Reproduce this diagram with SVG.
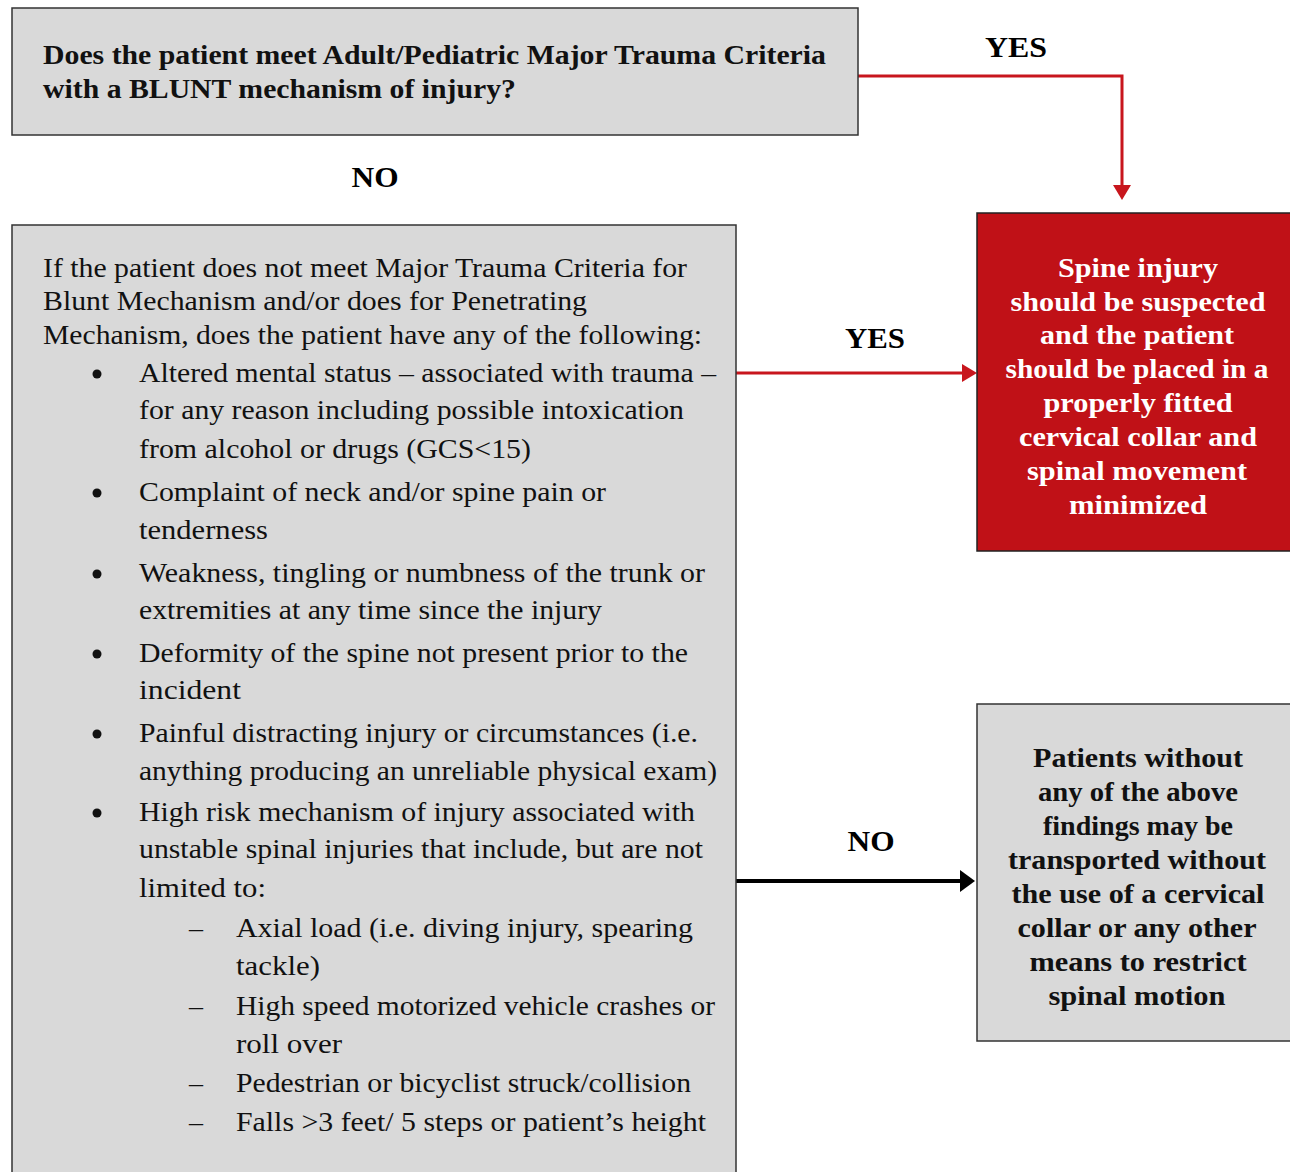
<svg xmlns="http://www.w3.org/2000/svg" width="1290" height="1172" viewBox="0 0 1290 1172">
<style>
.box{fill:#d9d9d9;stroke:#333;stroke-width:1.5}
.red{fill:#c01117;stroke:#222;stroke-width:1.5}
text{font-family:"Liberation Serif","Times New Roman",serif}
.t{font-size:28px;fill:#111}
.b{font-size:28px;font-weight:bold;fill:#111}
.w{font-size:28px;font-weight:bold;fill:#fff;text-anchor:middle}
.c{text-anchor:middle}
.lbl{font-size:30px;font-weight:bold;fill:#000;text-anchor:middle}
.rl{fill:none;stroke:#c8161d;stroke-width:3}
.bl{fill:none;stroke:#000;stroke-width:4}
</style>
<defs>
<marker id="ar" markerUnits="userSpaceOnUse" markerWidth="16" markerHeight="20" refX="0" refY="10" orient="auto">
<path d="M0,1 L15,10 L0,19 Z" fill="#c8161d"/>
</marker>
<marker id="ab" markerUnits="userSpaceOnUse" markerWidth="16" markerHeight="24" refX="0" refY="12" orient="auto">
<path d="M0,1 L15,12 L0,23 Z" fill="#000"/>
</marker>
</defs>

<g id="connectors">
<path class="rl" d="M858 76 H1122 V185" marker-end="url(#ar)"/>
<path class="rl" d="M736 373 H962" marker-end="url(#ar)"/>
<path class="bl" d="M736 881 H960" marker-end="url(#ab)"/>
<text class="lbl" x="1016" y="57" textLength="62" lengthAdjust="spacingAndGlyphs">YES</text>
<text class="lbl" x="375" y="187" textLength="47" lengthAdjust="spacingAndGlyphs">NO</text>
<text class="lbl" x="875" y="348" textLength="60" lengthAdjust="spacingAndGlyphs">YES</text>
<text class="lbl" x="871" y="851" textLength="47" lengthAdjust="spacingAndGlyphs">NO</text>
</g>

<g id="q1">
<rect class="box" x="12" y="8" width="846" height="127"/>
<text class="b" x="43" y="64" textLength="783" lengthAdjust="spacingAndGlyphs">Does the patient meet Adult/Pediatric Major Trauma Criteria</text>
<text class="b" x="43" y="98" textLength="473" lengthAdjust="spacingAndGlyphs">with a BLUNT mechanism of injury?</text>
</g>

<g id="q2">
<rect class="box" x="12" y="225" width="724" height="970"/>
<text class="t" x="43" y="277" textLength="644" lengthAdjust="spacingAndGlyphs">If the patient does not meet Major Trauma Criteria for</text>
<text class="t" x="43" y="310" textLength="544" lengthAdjust="spacingAndGlyphs">Blunt Mechanism and/or does for Penetrating</text>
<text class="t" x="43" y="344" textLength="659" lengthAdjust="spacingAndGlyphs">Mechanism, does the patient have any of the following:</text>
<g fill="#111">
<circle cx="97" cy="374" r="4.5"/>
<circle cx="97" cy="493" r="4.5"/>
<circle cx="97" cy="574" r="4.5"/>
<circle cx="97" cy="654" r="4.5"/>
<circle cx="97" cy="734" r="4.5"/>
<circle cx="97" cy="813" r="4.5"/>
</g>
<text class="t" x="139" y="382" textLength="577" lengthAdjust="spacingAndGlyphs">Altered mental status – associated with trauma –</text>
<text class="t" x="139" y="419" textLength="545" lengthAdjust="spacingAndGlyphs">for any reason including possible intoxication</text>
<text class="t" x="139" y="458" textLength="392" lengthAdjust="spacingAndGlyphs">from alcohol or drugs (GCS&lt;15)</text>
<text class="t" x="139" y="501" textLength="467" lengthAdjust="spacingAndGlyphs">Complaint of neck and/or spine pain or</text>
<text class="t" x="139" y="539" textLength="129" lengthAdjust="spacingAndGlyphs">tenderness</text>
<text class="t" x="139" y="582" textLength="566" lengthAdjust="spacingAndGlyphs">Weakness, tingling or numbness of the trunk or</text>
<text class="t" x="139" y="619" textLength="463" lengthAdjust="spacingAndGlyphs">extremities at any time since the injury</text>
<text class="t" x="139" y="662" textLength="549" lengthAdjust="spacingAndGlyphs">Deformity of the spine not present prior to the</text>
<text class="t" x="139" y="699" textLength="102" lengthAdjust="spacingAndGlyphs">incident</text>
<text class="t" x="139" y="742" textLength="559" lengthAdjust="spacingAndGlyphs">Painful distracting injury or circumstances (i.e.</text>
<text class="t" x="139" y="780" textLength="578" lengthAdjust="spacingAndGlyphs">anything producing an unreliable physical exam)</text>
<text class="t" x="139" y="821" textLength="556" lengthAdjust="spacingAndGlyphs">High risk mechanism of injury associated with</text>
<text class="t" x="139" y="858" textLength="564" lengthAdjust="spacingAndGlyphs">unstable spinal injuries that include, but are not</text>
<text class="t" x="139" y="897" textLength="127" lengthAdjust="spacingAndGlyphs">limited to:</text>
<text class="t" x="189" y="937">–</text>
<text class="t" x="189" y="1015">–</text>
<text class="t" x="189" y="1092">–</text>
<text class="t" x="189" y="1131">–</text>
<text class="t" x="236" y="937" textLength="457" lengthAdjust="spacingAndGlyphs">Axial load (i.e. diving injury, spearing</text>
<text class="t" x="236" y="975" textLength="84" lengthAdjust="spacingAndGlyphs">tackle)</text>
<text class="t" x="236" y="1015" textLength="479" lengthAdjust="spacingAndGlyphs">High speed motorized vehicle crashes or</text>
<text class="t" x="236" y="1053" textLength="106" lengthAdjust="spacingAndGlyphs">roll over</text>
<text class="t" x="236" y="1092" textLength="455" lengthAdjust="spacingAndGlyphs">Pedestrian or bicyclist struck/collision</text>
<text class="t" x="236" y="1131" textLength="470" lengthAdjust="spacingAndGlyphs">Falls &gt;3 feet/ 5 steps or patient’s height</text>
</g>

<g id="yes-result">
<rect class="red" x="977" y="213" width="330" height="338"/>
<text class="w" x="1138" y="277" textLength="160" lengthAdjust="spacingAndGlyphs">Spine injury</text>
<text class="w" x="1138" y="311" textLength="255" lengthAdjust="spacingAndGlyphs">should be suspected</text>
<text class="w" x="1137" y="344" textLength="194" lengthAdjust="spacingAndGlyphs">and the patient</text>
<text class="w" x="1137" y="378" textLength="263" lengthAdjust="spacingAndGlyphs">should be placed in a</text>
<text class="w" x="1138" y="412" textLength="189" lengthAdjust="spacingAndGlyphs">properly fitted</text>
<text class="w" x="1138" y="446" textLength="238" lengthAdjust="spacingAndGlyphs">cervical collar and</text>
<text class="w" x="1137" y="480" textLength="220" lengthAdjust="spacingAndGlyphs">spinal movement</text>
<text class="w" x="1138" y="514" textLength="138" lengthAdjust="spacingAndGlyphs">minimized</text>
</g>

<g id="no-result">
<rect class="box" x="977" y="704" width="330" height="337"/>
<text class="b c" x="1138" y="767" textLength="210" lengthAdjust="spacingAndGlyphs">Patients without</text>
<text class="b c" x="1138" y="801" textLength="200" lengthAdjust="spacingAndGlyphs">any of the above</text>
<text class="b c" x="1138" y="835" textLength="190" lengthAdjust="spacingAndGlyphs">findings may be</text>
<text class="b c" x="1137" y="869" textLength="258" lengthAdjust="spacingAndGlyphs">transported without</text>
<text class="b c" x="1138" y="903" textLength="253" lengthAdjust="spacingAndGlyphs">the use of a cervical</text>
<text class="b c" x="1137" y="937" textLength="239" lengthAdjust="spacingAndGlyphs">collar or any other</text>
<text class="b c" x="1138" y="971" textLength="217" lengthAdjust="spacingAndGlyphs">means to restrict</text>
<text class="b c" x="1137" y="1005" textLength="177" lengthAdjust="spacingAndGlyphs">spinal motion</text>
</g>
</svg>
